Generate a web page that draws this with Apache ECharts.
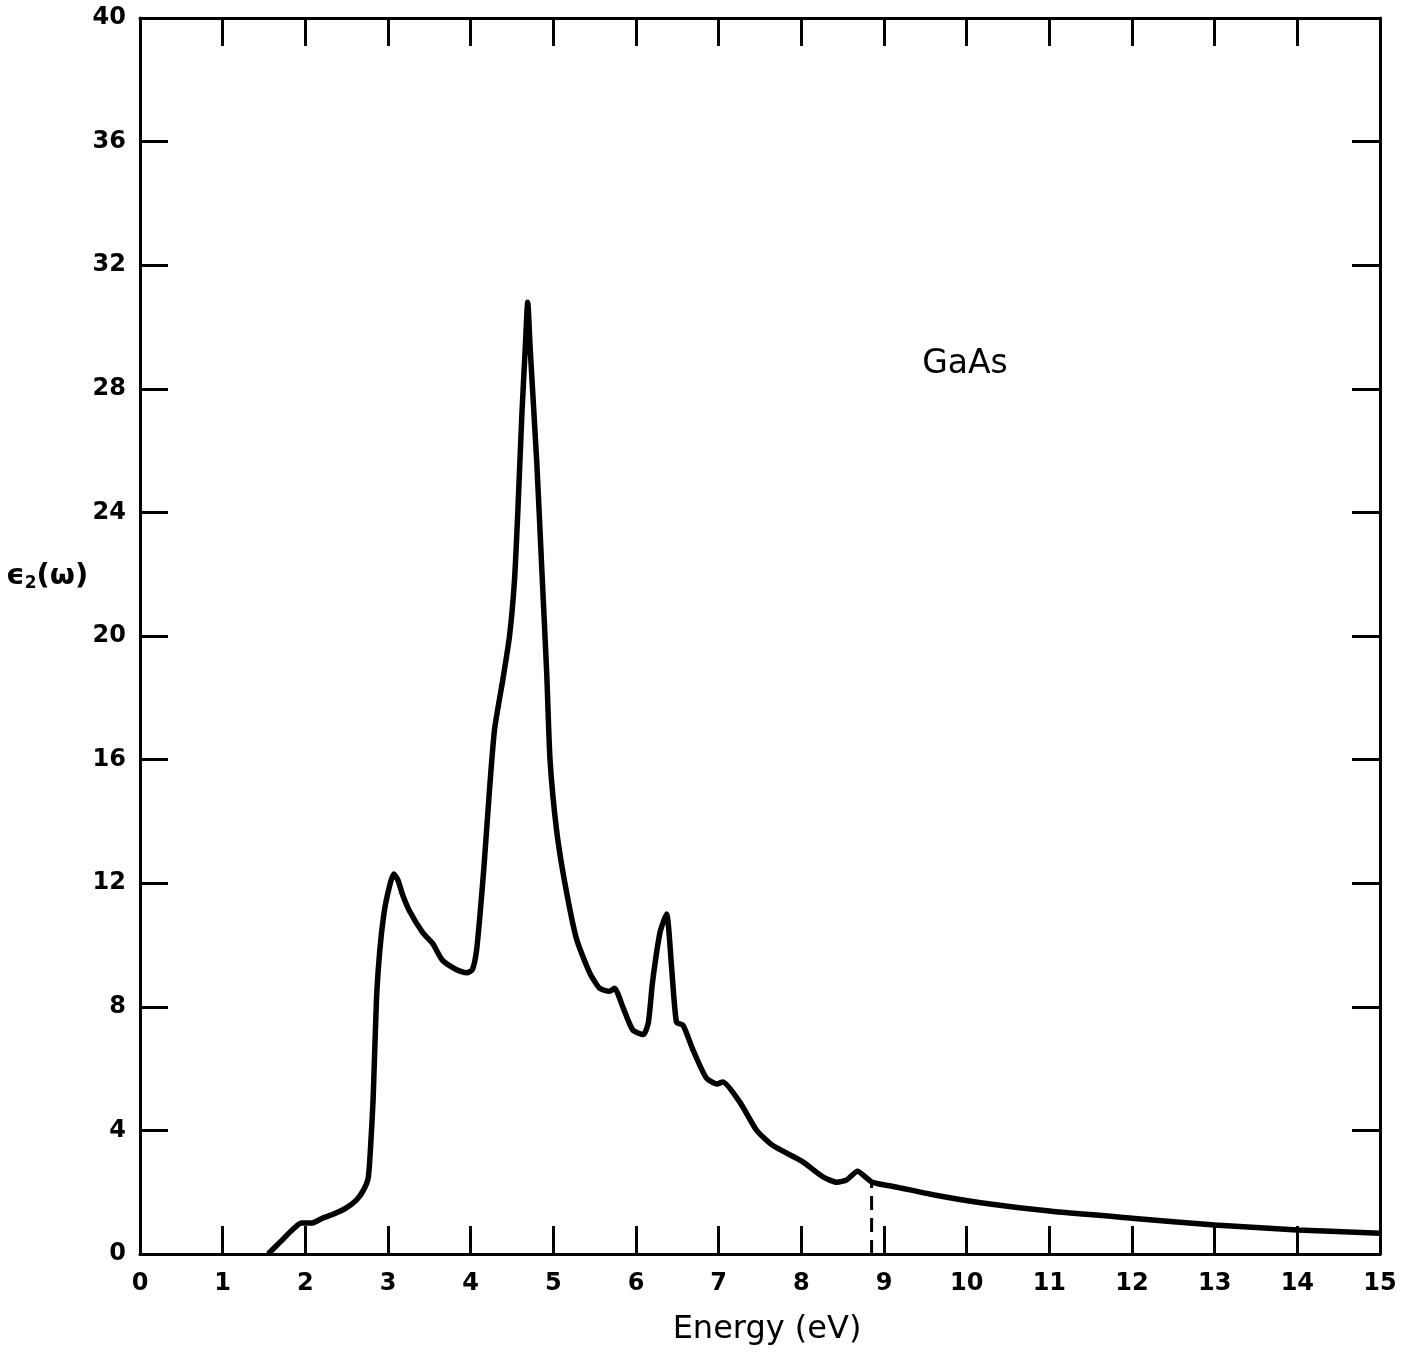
<!DOCTYPE html>
<html>
<head>
<meta charset="utf-8">
<script src="https://cdn.jsdelivr.net/npm/echarts@6/dist/echarts.min.js"></script>
<style>
html,body{margin:0;padding:0;background:#fff;}
#chart{width:1404px;height:1355px;}
</style>
</head>
<body>
<div id="chart"></div>
<script>
// Energy (eV) and epsilon_2 values
const energy = [1.55,1.7,1.85,1.95,2.08,2.2,2.35,2.5,2.62,2.7,2.76,2.79,2.82,2.86,2.9,2.95,3.0,3.07,3.12,3.18,3.26,3.42,3.54,3.66,3.83,3.95,4.02,4.07,4.12,4.16,4.23,4.29,4.39,4.47,4.53,4.57,4.62,4.66,4.69,4.72,4.8,4.86,4.92,4.96,5.04,5.14,5.28,5.44,5.56,5.68,5.74,5.84,5.96,6.09,6.15,6.2,6.29,6.37,6.43,6.49,6.57,6.69,6.85,6.98,7.05,7.26,7.46,7.66,8.01,8.26,8.43,8.55,8.68,8.79,8.86,9.14,9.61,10.17,11.0,12.0,13.0,14.0,15.0];
const eps2 = [0,0.4,0.8,1.0,1.0,1.15,1.3,1.5,1.75,2.05,2.45,3.5,5.0,8.2,9.8,11.0,11.7,12.3,12.1,11.6,11.1,10.4,10.05,9.5,9.2,9.1,9.2,9.8,11.2,12.5,15.1,17.0,18.6,20.0,21.8,24.0,27.2,29.3,30.8,29.3,25.6,22.2,18.8,16.0,13.7,12.0,10.2,9.1,8.6,8.5,8.6,8.0,7.25,7.1,7.5,8.8,10.4,11.0,9.3,7.5,7.4,6.6,5.7,5.5,5.57,4.9,4.0,3.5,3.0,2.5,2.32,2.4,2.68,2.46,2.32,2.17,1.91,1.66,1.39,1.16,0.94,0.78,0.67];
// dashed marker line
const markerX = [8.85, 8.85];
const markerY = [0, 2.32];
// annotation
const labelText = ['GaAs'];
const labelPos = [[9.98, 28.8]];
const xTicks = ['0','1','2','3','4','5','6','7','8','9','10','11','12','13','14','15'];
const yTicks = ['0','4','8','12','16','20','24','28','32','36','40'];

const curve = energy.map((e, i) => [e, eps2[i]]);
const dashed = markerX.map((e, i) => [e, markerY[i]]);

const FONT = 'DejaVu Sans';
const axisStyle = {onZero:false, lineStyle:{color:'#000', width:3}};
const tickStyle = {inside:true, length:28, lineStyle:{color:'#000', width:3}};
const chart = echarts.init(document.getElementById('chart'), null, {renderer:'canvas'});
chart.setOption({
  backgroundColor:'#fff',
  animation:false,
  grid:{left:140, right:24, top:18, bottom:101, containLabel:false, outerBoundsMode:'none'},
  xAxis:[{
    type:'value', min:0, max:15, interval:1, position:'bottom',
    axisLine:axisStyle, axisTick:tickStyle,
    splitLine:{show:false},
    axisLabel:{color:'#000', fontFamily:FONT, fontWeight:'bold', fontSize:24, margin:18,
      formatter:v => xTicks[Math.round(v)]},
    name:'Energy (eV)', nameLocation:'middle', nameGap:60,
    nameTextStyle:{color:'#000', fontFamily:FONT, fontSize:32, padding:[0,0,0,14]}
  },{
    type:'value', min:0, max:15, interval:1, position:'top',
    axisLine:axisStyle, axisTick:tickStyle,
    axisLabel:{show:false}, splitLine:{show:false}
  }],
  yAxis:[{
    type:'value', min:0, max:40, interval:4, position:'left',
    axisLine:axisStyle, axisTick:tickStyle,
    splitLine:{show:false},
    axisLabel:{color:'#000', fontFamily:FONT, fontWeight:'bold', fontSize:24, margin:14,
      formatter:v => yTicks[Math.round(v/4)]}
  },{
    type:'value', min:0, max:40, interval:4, position:'right',
    axisLine:axisStyle, axisTick:tickStyle,
    axisLabel:{show:false}, splitLine:{show:false}
  }],
  graphic:[{
    type:'text', left:6, top:562,
    style:{
      text:'{e|ϵ}{s|2}{e|(ω)}',
      rich:{
        e:{fill:'#000', fontFamily:FONT, fontWeight:'bold', fontSize:29},
        s:{fill:'#000', fontFamily:FONT, fontWeight:'bold', fontSize:17, padding:[14,0,0,0]}
      }
    }
  }],
  series:[{
    type:'line', data:curve, showSymbol:false, symbol:'none',
    smooth:0.2,
    lineStyle:{color:'#000', width:5.5}
  },{
    type:'line', data:dashed, showSymbol:false, symbol:'none',
    lineStyle:{color:'#000', width:3, type:[14,8]}
  },{
    type:'scatter', data:labelPos, symbolSize:0, itemStyle:{opacity:1},
    label:{show:true, position:'inside', formatter:p => labelText[p.dataIndex],
      color:'#000', opacity:1, fontFamily:FONT, fontSize:33}
  }]
});
</script>
</body>
</html>
